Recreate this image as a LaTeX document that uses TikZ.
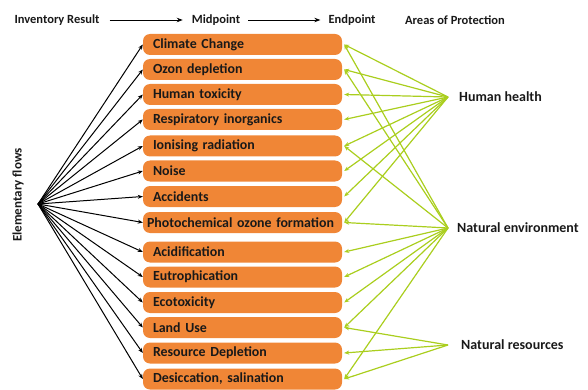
\documentclass[tikz,border=0pt]{standalone}
\usepackage{fontspec}
\setmainfont{Carlito}
\usetikzlibrary{arrows.meta}
\definecolor{boxorange}{RGB}{240,134,54}
\definecolor{lgreen}{RGB}{170,206,30}
\definecolor{txt}{RGB}{25,25,25}
\tikzset{
  mid/.style={rectangle, rounded corners=7pt, fill=boxorange, minimum width=199pt, minimum height=21pt, text width=179pt, inner xsep=10pt, inner ysep=0pt, align=left, font=\bfseries\fontsize{13.9}{15}\selectfont, text=txt},
  lbl/.style={font=\bfseries\fontsize{14}{16}\selectfont, text=txt, inner sep=0pt},
  hlbl/.style={font=\bfseries\fontsize{12.5}{14}\selectfont, text=txt, inner sep=0pt},
  blk/.style={draw=black, line width=1pt, -{Stealth[length=5pt,width=4pt]}},
  grn/.style={draw=lgreen, line width=1.2pt, -{Stealth[length=5pt,width=4pt]}},
  hdr/.style={draw=black, line width=0.9pt, -{Stealth[length=6pt,width=4.5pt]}}
}
\begin{document}
\begin{tikzpicture}[x=1pt,y=-1pt]
\useasboundingbox (0,0) rectangle (588,390);
% header
\node[hlbl] (inv) at (57,20) {Inventory Result};
\node[hlbl] (midp) at (216,20) {Midpoint};
\node[hlbl] (endp) at (352,20) {Endpoint};
\node[hlbl] (aop) at (455,20) {Areas of Protection};
\draw[hdr] ([xshift=10pt]inv.east) -- ([xshift=-9pt]midp.west);
\draw[hdr] ([xshift=8pt]midp.east) -- ([xshift=-8pt]endp.west);
% midpoint boxes
\node[mid] (cc) at (242.5,44.5) {Climate Change};
\node[mid] (od) at (242.5,69.5) {Ozon depletion};
\node[mid] (ht) at (242.5,94.5) {Human toxicity};
\node[mid] (ri) at (242.5,119.5) {Respiratory inorganics};
\node[mid] (ir) at (242.5,146) {Ionising radiation};
\node[mid] (no) at (242.5,171) {Noise};
\node[mid] (ac) at (242.5,196.5) {Accidents};
\node[mid, inner xsep=4pt, text width=191pt] (pof) at (242.5,222.5) {Photochemical ozone formation};
\node[mid] (acd) at (242.5,252) {Acidification};
\node[mid] (eu) at (242.5,277) {Eutrophication};
\node[mid] (et) at (242.5,302.5) {Ecotoxicity};
\node[mid] (lu) at (242.5,327.5) {Land Use};
\node[mid] (rd) at (242.5,353) {Resource Depletion};
\node[mid] (ds) at (242.5,379) {Desiccation, salination};
% elementary flows
\coordinate (ef) at (38,204);
\node[hlbl, rotate=90, font=\bfseries\fontsize{13}{15}\selectfont] (eflab) at (18,195) {Elementary flows};
\foreach \b in {cc,od,ht,ri,ir,no,ac,pof,acd,eu,et,lu,rd,ds}
  \draw[blk] (ef) -- (\b.west);
% areas of protection
\coordinate (hh) at (448,97);
\coordinate (ne) at (448,228);
\coordinate (nr) at (448,345);
\node[lbl, anchor=west] (hhl) at (459,97) {Human health};
\node[lbl, anchor=west] (nel) at (457,228) {Natural environment};
\node[lbl, anchor=west] (nrl) at (461,345) {Natural resources};
\foreach \b in {cc,od,ht,ri,ir,no,ac,pof}
  \draw[grn] (hh) -- ([xshift=2pt]\b.east);
\foreach \b in {cc,od,ir,pof,acd,eu,et,lu,ds}
  \draw[grn] (ne) -- ([xshift=2pt]\b.east);
\foreach \b in {lu,rd,ds}
  \draw[grn] (nr) -- ([xshift=2pt]\b.east);
\end{tikzpicture}
\end{document}
